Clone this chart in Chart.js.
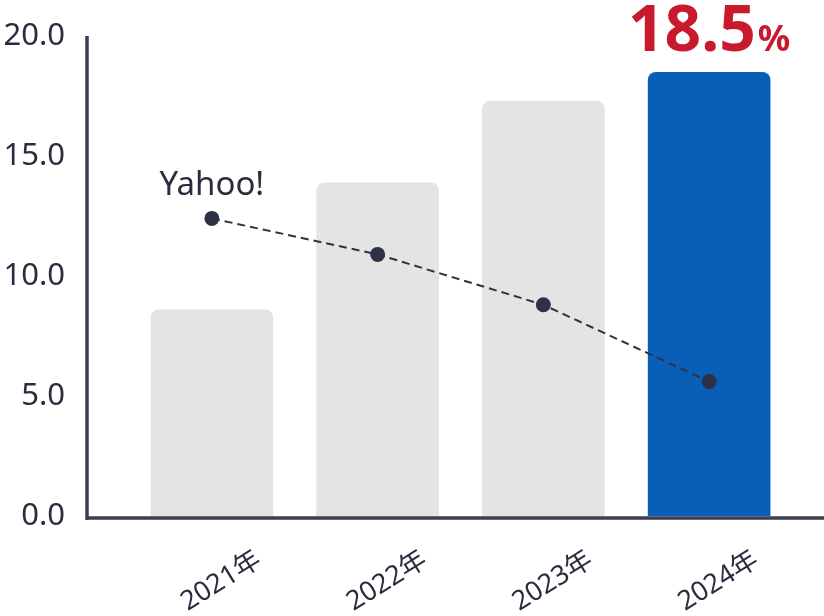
<!DOCTYPE html>
<html>
<head>
<meta charset="utf-8">
<script src="https://cdn.jsdelivr.net/npm/chart.js@4.4.1/dist/chart.umd.min.js"></script>
<style>
  html, body { margin: 0; padding: 0; background: #fff; }
  #wrap { width: 824px; height: 616px; position: relative; }
</style>
</head>
<body>
<div id="wrap"><canvas id="chart"></canvas></div>
<script>
// data
var years = ["2021年", "2022年", "2023年", "2024年"];
var shareValues = [8.6, 13.9, 17.3, 18.5];
var yahooValues = [12.4, 10.9, 8.8, 5.6];
var yTicks = [0, 5, 10, 15, 20];
var highlightText = "18.5";
var highlightUnit = "%";

var barColors = ["#e4e4e4", "#e4e4e4", "#e4e4e4", "#085fb5"];
var inkColor = "#2b2d3e";
var axisColor = "#3b3e52";
var fontFamily = "'Noto Sans', 'Noto Sans CJK JP', sans-serif";

// draws the axis lines, the series name and the big highlight number
var decorations = {
  id: 'decorations',
  afterDatasetsDraw: function (chart) {
    var ctx = chart.ctx;
    var y = chart.scales.y;
    var zeroY = y.getPixelForValue(0);
    var topY = y.getPixelForValue(20);
    var axisX = chart.chartArea.left - 42;

    ctx.save();
    ctx.strokeStyle = axisColor;
    ctx.lineWidth = 3.5;
    ctx.beginPath();
    ctx.moveTo(axisX, topY);
    ctx.lineTo(axisX, zeroY + 4);
    ctx.moveTo(axisX - 1.5, zeroY + 2);
    ctx.lineTo(chart.width, zeroY + 2);
    ctx.stroke();

    // series name above first line point
    var p0 = chart.getDatasetMeta(1).data[0];
    ctx.fillStyle = inkColor;
    ctx.font = "33px " + fontFamily;
    ctx.textAlign = 'center';
    ctx.textBaseline = 'alphabetic';
    ctx.fillText(chart.data.datasets[1].label, p0.x, p0.y - 23);

    // highlight number above the last bar
    var bar = chart.getDatasetMeta(0).data[3];
    ctx.fillStyle = "#c8192d";
    var bigFont = "bold 64px " + fontFamily;
    var smallFont = "bold 36px " + fontFamily;
    ctx.font = bigFont;
    var w1 = ctx.measureText(highlightText).width;
    ctx.font = smallFont;
    var w2 = ctx.measureText(highlightUnit).width;
    var startX = bar.x - (w1 + w2 + 2) / 2;
    var baseY = bar.y - 21;
    ctx.textAlign = 'left';
    ctx.font = bigFont;
    ctx.fillText(highlightText, startX, baseY);
    ctx.font = smallFont;
    ctx.fillText(highlightUnit, startX + w1 + 2, baseY);
    ctx.restore();
  }
};

var ctx = document.getElementById('chart');
var chart = new Chart(ctx, {
  type: 'bar',
  data: {
    labels: years,
    datasets: [{
      label: "share",
      data: shareValues,
      backgroundColor: barColors,
      borderRadius: { topLeft: 8, topRight: 8 },
      borderSkipped: 'bottom',
      barPercentage: 0.74,
      categoryPercentage: 1.0,
      order: 2
    }, {
      type: 'line',
      label: "Yahoo!",
      data: yahooValues,
      borderColor: "#2f3148",
      borderWidth: 2,
      borderDash: [8, 5],
      pointBackgroundColor: "#2f3148",
      pointBorderColor: "#2f3148",
      pointRadius: 6.5,
      fill: false,
      tension: 0,
      order: 1
    }]
  },
  options: {
    responsive: true,
    maintainAspectRatio: false,
    animation: false,
    layout: { padding: { top: 36, right: 32, left: 0, bottom: 0 } },
    plugins: {
      legend: { display: false },
      tooltip: { enabled: false }
    },
    scales: {
      x: {
        grid: { display: false, drawTicks: false },
        border: { display: false },
        ticks: {
          color: inkColor,
          font: { family: fontFamily, size: 27 },
          minRotation: 32,
          maxRotation: 32,
          padding: 28,
          labelOffset: 47
        },
        afterFit: function (scale) {
          scale.height = 100;
          scale.paddingLeft = 0;
          scale.paddingRight = 0;
        }
      },
      y: {
        min: 0,
        max: 20,
        grid: { display: false, drawTicks: false },
        border: { display: false },
        afterBuildTicks: function (scale) {
          scale.ticks = yTicks.map(function (v) { return { value: v }; });
        },
        ticks: {
          color: inkColor,
          font: { family: fontFamily, size: 31 },
          padding: 64,
          callback: function (v) { return Number(v).toFixed(1); }
        },
        afterFit: function (scale) {
          scale.width = 129;
          scale.paddingTop = 0;
          scale.paddingBottom = 0;
        }
      }
    }
  },
  plugins: [decorations]
});
</script>
</body>
</html>
